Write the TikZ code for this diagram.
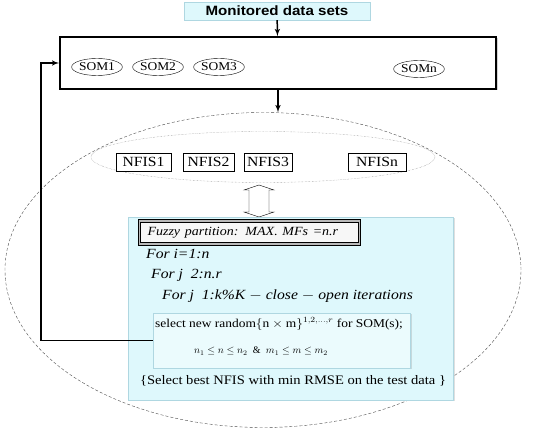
\documentclass[tikz,border=0pt]{standalone}
\usepackage{amsmath}
\usepackage{amssymb}
\usepackage{graphicx}
\usepackage{fontspec}
\setmainfont{Liberation Serif}
\setsansfont{Liberation Sans}
\usetikzlibrary{shapes,arrows,positioning,calc,shadows}
\definecolor{panecyan}{RGB}{222,248,252}
\definecolor{paneedge}{RGB}{175,215,225}
\newcommand{\widetxt}[1]{\scalebox{1.12}[1]{#1}}
\tikzset{
topbox/.style = {draw=paneedge, fill=panecyan, rectangle, minimum height=18pt, minimum width=186pt, inner sep=1pt, font=\sffamily\bfseries\fontsize{13.5}{15}\selectfont},
sombox/.style = {draw, line width=1.6pt, fill=white, rectangle, drop shadow={opacity=0.35,shadow xshift=1.5pt,shadow yshift=-1.5pt}, minimum width=436pt, minimum height=52pt},
som/.style = {draw, ellipse, inner sep=0pt, minimum width=48pt, minimum height=17pt, font=\fontsize{12}{14}\selectfont},
nfis/.style = {draw, fill=white, rectangle, inner sep=0pt, minimum height=18pt, font=\fontsize{14}{16}\selectfont},
pane/.style = {draw=paneedge, fill=panecyan, rectangle, drop shadow={opacity=0.25,shadow xshift=1.5pt,shadow yshift=-1.5pt}},
fuzzy/.style = {draw, line width=0.9pt, double=gray!55, double distance=1.3pt, fill=gray!6, rectangle, inner xsep=8pt, inner ysep=0pt, minimum height=23pt, text width=204pt, align=left, font=\itshape\fontsize{12.5}{14}\selectfont},
loopline/.style = {anchor=west, inner sep=0pt, font=\itshape\fontsize{14}{16}\selectfont},
plain/.style = {inner sep=0pt, font=\fontsize{12}{14}\selectfont}
}
\begin{document}
\begin{tikzpicture}[auto, x=1pt, y=-1pt, >=latex']
  \useasboundingbox (0,0) rectangle (558,430);
  % outer ellipses
  \node [draw=black!70, densely dashed, thin, ellipse, minimum width=516pt, minimum height=315pt] (bigell) at (263,270) {};
  \node [draw=black!50, densely dotted, thin, ellipse, minimum width=344pt, minimum height=51pt] (nfisell) at (263,157) {};

  \node [topbox]                                   (data)    at (277,11)   {\widetxt{Monitored data sets}};
  \node [sombox]                                   (soms)    at (278,63)   {};
  \node [som]                                      (som1)    at (97,67)    {\widetxt{SOM1}};
  \node [som]                                      (som2)    at (158,67)   {\widetxt{SOM2}};
  \node [som]                                      (som3)    at (219,67)   {\widetxt{SOM3}};
  \node [som]                                      (somn)    at (419,69)   {\widetxt{SOMn}};

  \node [nfis, minimum width=55pt]                 (nfis1)   at (143.5,162) {\widetxt{NFIS1}};
  \node [nfis, minimum width=51pt]                 (nfis2)   at (208.5,162) {\widetxt{NFIS2}};
  \node [nfis, minimum width=48pt]                 (nfis3)   at (268,162)   {\widetxt{NFIS3}};
  \node [nfis, minimum width=58pt]                 (nfisn)   at (377,162)   {\widetxt{NFISn}};

  % hollow two-way arrow
  \coordinate (swap) at (259,201);
  \draw [fill=white] ($(swap)+(0,-16)$) -- ++(15,5) -- ++(-5,0) -- ++(0,22) -- ++(5,0) -- ++(-15,5)
        -- ++(-15,-5) -- ++(5,0) -- ++(0,-22) -- ++(-5,0) -- cycle;

  \node [pane, minimum width=325pt, minimum height=183pt]    (panel)   at (290.5,308.5) {};
  \node [fuzzy]                                    (fuzz)    at (249.5,232.5) {\widetxt{Fuzzy partition: MAX. MFs =n.r}};
  \node [loopline]                                 (fori)    at (146,254)  {\widetxt{For i=1:n}};
  \node [loopline]                                 (forj)    at (151,275)  {\widetxt{For j\enspace 2:n.r}};
  \node [loopline]                                 (fork)    at (162,296)  {\widetxt{For j\enspace 1:k\%K $-$ close $-$ open iterations}};
  \node [pane, fill=panecyan!60, minimum width=257pt, minimum height=55pt] (select) at (281.5,340.5) {};
  \node [plain, anchor=west]                       (seltxt)  at (155,324)  {\widetxt{select new random$\{\mathrm{n}\times\mathrm{m}\}^{1,2,\ldots,r}$ for SOM(s);}};
  \node [plain, font=\fontsize{10}{12}\selectfont] (bounds)  at (261,351)  {$n_1\le n\le n_2$\;\ \&\;\ $m_1\le m\le m_2$};
  \node [plain, font=\fontsize{13}{15}\selectfont] (best)    at (293,381)  {\widetxt{\{Select best NFIS with min RMSE on the test data \}}};

  \draw [->, line width=1.5pt] (data) -- (soms);
  \draw [->, line width=1.5pt] (soms.south) -- (soms.south |- bigell.north);
  \draw [->, line width=1.5pt] (select.west) -| ($(soms.west)+(-18,0)$) -- (soms.west);
\end{tikzpicture}
\end{document}
